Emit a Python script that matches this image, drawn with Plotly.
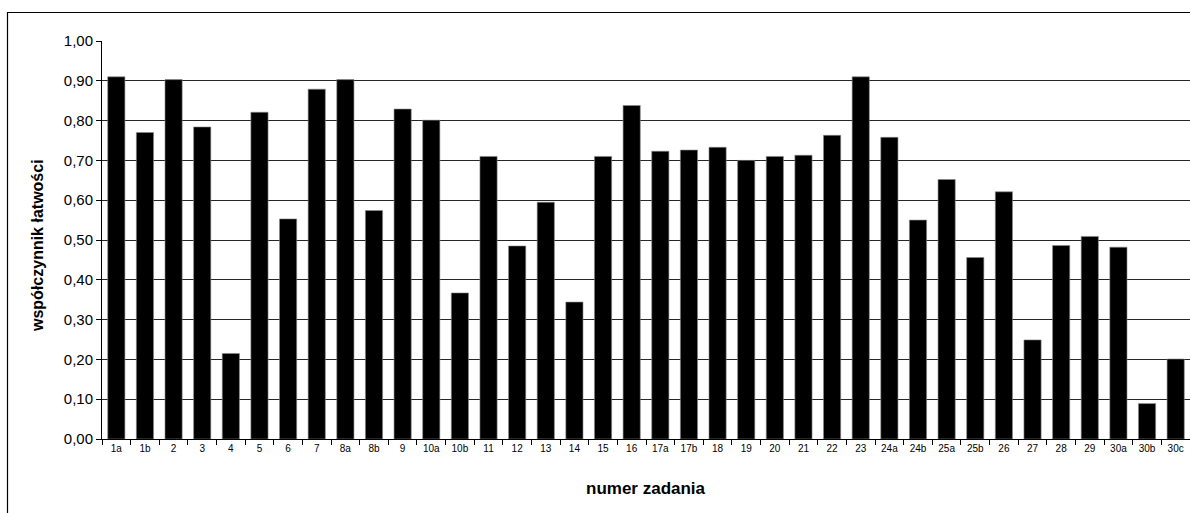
import plotly.graph_objects as go

categories = ["1a", "1b", "2", "3", "4", "5", "6", "7", "8a", "8b", "9", "10a", "10b",
              "11", "12", "13", "14", "15", "16", "17a", "17b", "18", "19", "20", "21",
              "22", "23", "24a", "24b", "25a", "25b", "26", "27", "28", "29", "30a",
              "30b", "30c"]
values = [0.91, 0.77, 0.903, 0.784, 0.215, 0.821, 0.553, 0.879, 0.903, 0.574, 0.829,
          0.801, 0.367, 0.710, 0.485, 0.595, 0.344, 0.710, 0.838, 0.723, 0.726, 0.733,
          0.700, 0.710, 0.713, 0.763, 0.910, 0.758, 0.550, 0.652, 0.456, 0.621, 0.249,
          0.486, 0.509, 0.482, 0.089, 0.201]
y_ticks = [0.0, 0.1, 0.2, 0.3, 0.4, 0.5, 0.6, 0.7, 0.8, 0.9, 1.0]

FONT = "Liberation Sans, Arial, sans-serif"

W, H = 1190, 513
L, R, T, B = 102, 0, 41, 74
PW, PH = W - L - R, H - T - B

fig = go.Figure(go.Bar(
    x=categories, y=values,
    marker=dict(color="#000000", line=dict(color="#8a8a8a", width=0.6)),
    width=0.6,
))

fig.update_layout(
    width=W, height=H,
    margin=dict(l=L, r=R, t=T, b=B),
    paper_bgcolor="white", plot_bgcolor="white",
    separators=", ",
    showlegend=False,
    font=dict(family=FONT, color="#000000"),
    xaxis=dict(
        type="category",
        range=[-0.5, len(categories) - 0.5],
        showgrid=False,
        showline=True, linecolor="#000000", linewidth=1,
        ticks="outside", tickson="boundaries", ticklen=5, tickcolor="#000000",
        tickfont=dict(size=10, family=FONT),
    ),
    yaxis=dict(
        range=[0, 1.0],
        tickvals=y_ticks,
        tickformat=".2f",
        showgrid=True, gridcolor="#262626", gridwidth=1,
        showline=True, linecolor="#000000", linewidth=1,
        ticks="outside", ticklen=5, tickcolor="#000000",
        tickfont=dict(size=15, family=FONT),
        zeroline=False,
    ),
    annotations=[
        dict(text="<b>współczynnik łatwości</b>", xref="paper", yref="paper",
             x=(38 - L) / PW, y=(H - B - 246) / PH, textangle=-90,
             showarrow=False, font=dict(size=16, family=FONT),
             xanchor="center", yanchor="middle"),
        dict(text="<b>numer zadania</b>", xref="paper", yref="paper",
             x=(646 - L) / PW, y=(H - B - 488) / PH,
             showarrow=False, font=dict(size=17, family=FONT),
             xanchor="center", yanchor="middle"),
    ],
    shapes=[
        dict(type="rect", xref="paper", yref="paper",
             x0=(7.5 - L) / PW, x1=1.02,
             y0=(H - B - 530) / PH, y1=(H - B - 12.5) / PH,
             line=dict(color="#000000", width=1.2), fillcolor="rgba(0,0,0,0)",
             layer="below"),
    ],
)

fig.write_html("out.html",
               config={"displayModeBar": False},
               post_script="document.body.style.margin='0px';document.body.style.overflow='hidden';")
